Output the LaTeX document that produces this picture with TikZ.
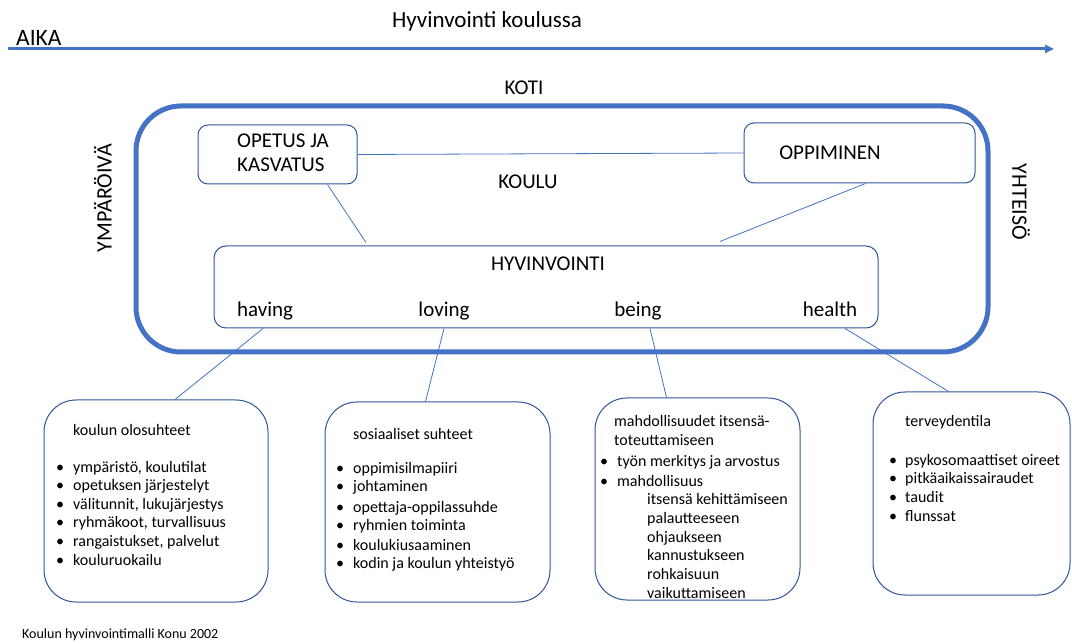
\documentclass[tikz,border=0pt]{standalone}
\usepackage{fontspec}
\setmainfont{Carlito}
\usetikzlibrary{arrows.meta,positioning}
\definecolor{accent}{HTML}{4472C4}
\definecolor{boxline}{HTML}{2F5597}
\newcommand{\fs}[1]{\fontsize{#1}{#1}\selectfont}

\begin{document}
\begin{tikzpicture}[x=1pt,y=-1pt,
  pbox/.style={draw=boxline,line width=1pt,rounded corners=10pt,inner sep=0pt},
  kbox/.style={draw=boxline,line width=1pt,rounded corners=32pt,inner sep=0pt},
  link/.style={accent,line width=0.8pt},
  big/.style={font=\fs{21},inner sep=0pt},
  txt/.style={anchor=base west,font=\fs{16},inner sep=0pt}]
  \useasboundingbox (0,0) rectangle (1072,644);

  % time axis
  \node[font=\fs{23},inner sep=0pt] (title) at (487,21) {Hyvinvointi koulussa};
  \node[font=\fs{23.5},anchor=base west,inner sep=0pt] (aika) at (16,46) {AIKA};
  \coordinate (t0) at (8,49);
  \coordinate (t1) at (1054,49);
  \draw[accent,line width=3pt,-{Triangle[length=9pt,width=8pt]}] (t0) -- (t1);

  % home / school frame
  \node[big] (koti) at (524,88) {KOTI};
  \draw[accent,line width=5pt,rounded corners=45pt] (136,106) rectangle (988,352);
  \node[big,font=\fs{22},rotate=90] (ymp) at (103,198) {YMPÄRÖIVÄ};
  \node[big,font=\fs{22},rotate=-90] (yht) at (1021,202) {YHTEISÖ};

  \node[pbox,minimum width=159pt,minimum height=59pt] (op) at (277.5,154.5) {};
  \node[big,anchor=base west] (opt1) at (237,148) {OPETUS JA};
  \node[big,anchor=base west] (opt2) at (237,172) {KASVATUS};
  \node[pbox,minimum width=231pt,minimum height=60pt] (opp) at (859.5,153) {};
  \node[big] (oppt) at (830,153) {OPPIMINEN};
  \node[big] (koulu) at (528,182) {KOULU};
  \draw[link] (op.east) -- (opp.west);

  \node[pbox,rounded corners=12pt,minimum width=664pt,minimum height=82pt] (hyv) at (546,287) {};
  \node[big] (hyvt) at (548,264) {HYVINVOINTI};
  \node[big,anchor=base] (having) at (265,317) {having};
  \node[big,anchor=base] (loving) at (444,317) {loving};
  \node[big,anchor=base] (being) at (638,317) {being};
  \node[big,anchor=base] (health) at (830,317) {health};
  \draw[link] ([xshift=50pt]op.south) -- ([shift={(-180,-3)}]hyv.north);
  \draw[link] ([xshift=6pt]opp.south) -- ([shift={(174,-4)}]hyv.north);

  % four dimensions
  \node[kbox,minimum width=224pt,minimum height=202pt] (b1) at (156,501) {};
  \node[kbox,minimum width=225pt,minimum height=200pt] (b2) at (437.5,502) {};
  \node[kbox,minimum width=205pt,minimum height=202pt] (b3) at (697.5,499) {};
  \node[kbox,minimum width=197pt,minimum height=203pt] (b4) at (971.5,493.5) {};
  \draw[link] ([xshift=-2pt]having.south |- hyv.south) -- ([xshift=19pt]b1.north);
  \draw[link] (loving.south |- hyv.south) -- ([xshift=-12pt]b2.north);
  \draw[link] ([xshift=12pt]being.south |- hyv.south) -- ([xshift=-31pt]b3.north);
  \draw[link] ([xshift=15pt]health.south |- hyv.south) -- ([xshift=-23pt]b4.north);

  \node[txt] (h0) at (73,436) {koulun olosuhteet};
  \foreach \y/\t in {472/{ympäristö, koulutilat},490/{opetuksen järjestelyt},
      509/{välitunnit, lukujärjestys},527/{ryhmäkoot, turvallisuus},
      546/{rangaistukset, palvelut},565/{kouluruokailu}} {
    \node[txt] (hb\y) at (56,\y) {•};
    \node[txt] (h\y) at (73,\y) {\t};
  }

  \node[txt] (l0) at (353,439) {sosiaaliset suhteet};
  \foreach \y/\t in {474/{oppimisilmapiiri},492/{johtaminen},512/{opettaja-oppilassuhde},
      530/{ryhmien toiminta},550/{koulukiusaaminen},568/{kodin ja koulun yhteistyö}} {
    \node[txt] (lb\y) at (336,\y) {•};
    \node[txt] (l\y) at (353,\y) {\t};
  }

  \node[txt] (e0) at (614,427) {mahdollisuudet itsensä-};
  \node[txt] (e1) at (614,446) {toteuttamiseen};
  \foreach \y/\t in {467/{työn merkitys ja arvostus},486/{mahdollisuus}} {
    \node[txt] (eb\y) at (600,\y) {•};
    \node[txt] (e\y) at (617,\y) {\t};
  }
  \foreach \y/\t in {504/{itsensä kehittämiseen},523/{palautteeseen},542/{ohjaukseen},
      560/{kannustukseen},579/{rohkaisuun},598/{vaikuttamiseen}}
    \node[txt] (e\y) at (647,\y) {\t};

  \node[txt] (t0) at (905,427) {terveydentila};
  \foreach \y/\t in {465/{psykosomaattiset oireet},483/{pitkäaikaissairaudet},
      502/{taudit},521/{flunssat}} {
    \node[txt] (tb\y) at (889,\y) {•};
    \node[txt] (t\y) at (905,\y) {\t};
  }

  \node[txt,font=\fs{14}] (src) at (22,638) {Koulun hyvinvointimalli Konu 2002};
\end{tikzpicture}
\end{document}
